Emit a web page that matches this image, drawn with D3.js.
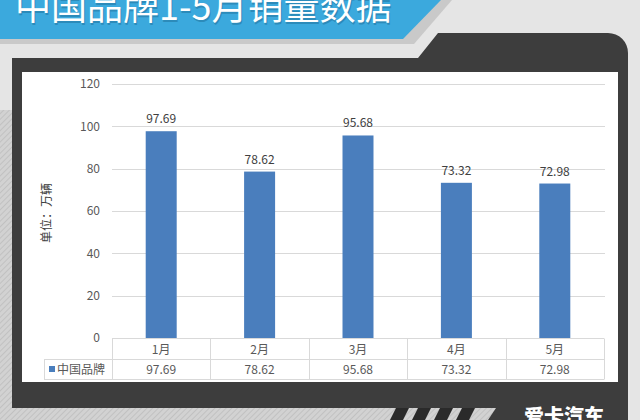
<!DOCTYPE html>
<html><head><meta charset="utf-8">
<script src="https://cdn.jsdelivr.net/npm/d3@7"></script>
<style>html,body{margin:0;padding:0;background:#e5e5e5;}svg{display:block;}</style>
</head><body><svg id="c" width="640" height="420"></svg>
<script>
const months = ["1月","2月","3月","4月","5月"];
const sales = [97.69, 78.62, 95.68, 73.32, 72.98];
const yTicks = [0, 20, 40, 60, 80, 100, 120];
const seriesName = "中国品牌";
const title = "中国品牌1-5月销量数据";
const yTitle = "单位：万辆";

const svg = d3.select("#c");
const font = "'Noto Sans CJK SC','Microsoft YaHei',sans-serif";
const txt = "#595959", grid = "#d9d9d9", barColor = "#4a7ebd", dark = "#3d3d3d";

const defs = svg.append("defs");
const pat = defs.append("pattern").attr("id","hatch").attr("width",4).attr("height",4)
  .attr("patternUnits","userSpaceOnUse").attr("patternTransform","rotate(45)");
pat.append("rect").attr("width",4).attr("height",4).attr("fill","#d2d2d2");
pat.append("line").attr("x1",0).attr("y1",0).attr("x2",0).attr("y2",4).attr("stroke","#bcbcbc").attr("stroke-width",1.5);

// background
svg.append("rect").attr("width",640).attr("height",420).attr("fill","#e5e5e5");
svg.append("rect").attr("x",0).attr("y",110).attr("width",12).attr("height",310).attr("fill","url(#hatch)");

// banner shadow + banner
svg.append("path").attr("d","M0,0 L452,0 L414,44 L0,44 Z").attr("fill","#c9c9c9");
svg.append("path").attr("d","M0,0 L441,0 L403,39 L0,39 Z").attr("fill","#3ba9dd");
svg.append("text").attr("x",15).attr("y",20).attr("font-family",font).attr("font-size",36)
  .attr("fill","#1f6f99").attr("opacity",0.5).attr("transform","translate(1,1.5)").text(title);
svg.append("text").attr("x",15).attr("y",20).attr("font-family",font).attr("font-size",36)
  .attr("fill","#ffffff").text(title);

// dark panel
svg.append("path").attr("d","M12,58 L418,58 L438,33 L608,33 A20,20 0 0 1 628,53 L628,420 L12,420 Z").attr("fill",dark);
// white plot area
svg.append("rect").attr("x",22).attr("y",72).attr("width",596).attr("height",310).attr("fill","#ffffff");

// bottom stripe
svg.append("path").attr("d","M12,408 L496,408 L488,420 L12,420 Z").attr("fill","url(#hatch)");
[0,1,2,3].forEach(i=>{
  const x0 = 390 + i*22;
  svg.append("path").attr("d",`M${x0+6},408 L${x0+19},408 L${x0+13},420 L${x0},420 Z`).attr("fill","#2a2a2a");
});
svg.append("text").attr("x",524).attr("y",424).attr("font-family",font).attr("font-size",20)
  .attr("font-weight",900).attr("fill","#ffffff").text("爱卡汽车");

// scales
const x = d3.scaleBand().domain(months).range([112,604]).paddingInner(0.685).paddingOuter(0.3425);
const y = d3.scaleLinear().domain([0,120]).range([338,84]);

// grid lines
svg.append("g").selectAll("line").data(yTicks.filter(d=>d>0)).join("line")
  .attr("x1",112).attr("x2",605).attr("y1",d=>Math.round(y(d))+0.5).attr("y2",d=>Math.round(y(d))+0.5)
  .attr("stroke",grid).attr("stroke-width",1);

// y axis labels via d3 axis
const yAxis = d3.axisLeft(y).tickValues(yTicks).tickSize(0).tickPadding(0);
const ga = svg.append("g").attr("transform","translate(100,0)").call(yAxis);
ga.select(".domain").remove();
ga.selectAll("text").attr("font-family",font).attr("font-size",12).attr("fill",txt);

// bars
svg.append("g").selectAll("rect").data(sales).join("rect")
  .attr("x",(d,i)=>x(months[i])).attr("width",x.bandwidth())
  .attr("y",d=>y(d)).attr("height",d=>y(0)-y(d)).attr("fill",barColor);

// value labels
svg.append("g").selectAll("text").data(sales).join("text")
  .attr("x",(d,i)=>x(months[i])+x.bandwidth()/2).attr("y",d=>y(d)-8)
  .attr("text-anchor","middle").attr("font-family",font).attr("font-size",12).attr("fill","#404040")
  .text(d=>d.toFixed(2));

// y title
svg.append("text").attr("transform","translate(51,213) rotate(-90)").attr("text-anchor","middle")
  .attr("font-family",font).attr("font-size",12).attr("fill","#404040").text(yTitle);

// data table
const tTop = 338.5, tMid = 359.5, tBot = 379.5;
const tg = svg.append("g").attr("stroke",grid).attr("stroke-width",1).attr("fill","none");
tg.append("line").attr("x1",112).attr("x2",604).attr("y1",tTop).attr("y2",tTop);
tg.append("line").attr("x1",44).attr("x2",604).attr("y1",tMid).attr("y2",tMid);
tg.append("line").attr("x1",44).attr("x2",604).attr("y1",tBot).attr("y2",tBot);
tg.append("line").attr("x1",44.5).attr("x2",44.5).attr("y1",tMid).attr("y2",tBot);
const cols = months.map(m=>x(m)-x.step()*x.paddingInner()/2);
cols.push(604);
tg.selectAll(".v").data(cols).join("line").attr("class","v")
  .attr("x1",d=>Math.round(d)+0.5).attr("x2",d=>Math.round(d)+0.5).attr("y1",tTop).attr("y2",tBot);

svg.append("g").selectAll("text").data(months).join("text")
  .attr("x",d=>x(d)+x.bandwidth()/2).attr("y",354).attr("text-anchor","middle")
  .attr("font-family",font).attr("font-size",12).attr("fill",txt).text(d=>d);
svg.append("g").selectAll("text").data(sales).join("text")
  .attr("x",(d,i)=>x(months[i])+x.bandwidth()/2).attr("y",374).attr("text-anchor","middle")
  .attr("font-family",font).attr("font-size",12).attr("fill",txt).text(d=>d.toFixed(2));

svg.append("rect").attr("x",49).attr("y",366).attr("width",6).attr("height",6).attr("fill",barColor);
svg.append("text").attr("x",57).attr("y",374).attr("font-family",font).attr("font-size",12)
  .attr("fill",txt).text(seriesName);
</script></body></html>
